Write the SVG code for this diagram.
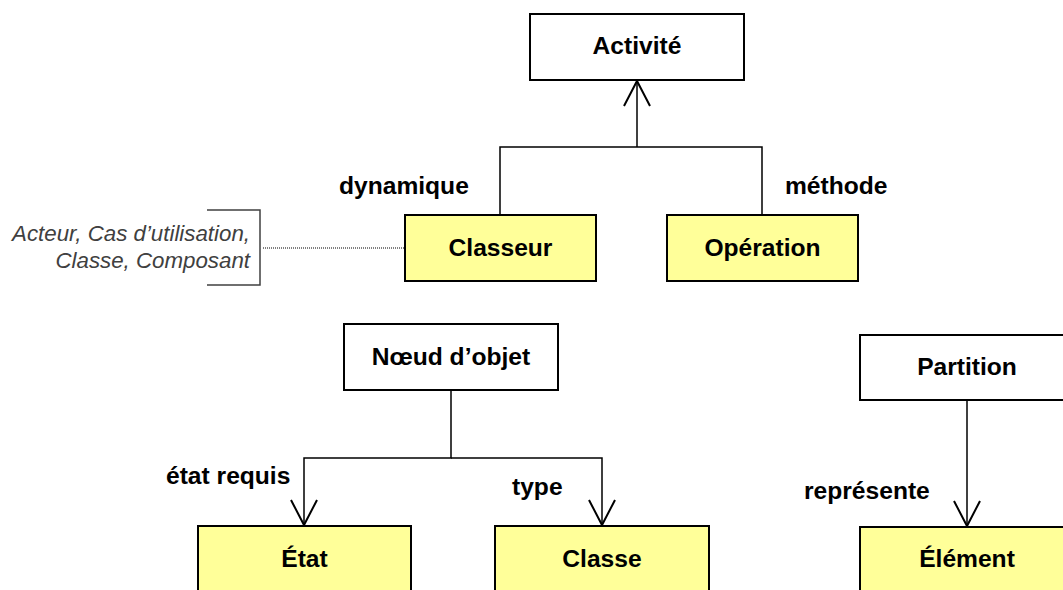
<svg xmlns="http://www.w3.org/2000/svg" width="1063" height="590" viewBox="0 0 1063 590">
<style>
.box{stroke:#000;stroke-width:2}
.w{fill:#fff}
.y{fill:#ffff99}
.t{font-family:"Liberation Sans",Arial,sans-serif;font-weight:bold;font-size:24.6px;fill:#000}
.c{text-anchor:middle}
.note{font-family:"Liberation Sans",Arial,sans-serif;font-style:italic;font-size:22.3px;fill:#404040;text-anchor:end}
.ln{fill:none;stroke:#000;stroke-width:1.5}
</style>
<defs>
<marker id="open" markerUnits="userSpaceOnUse" markerWidth="40" markerHeight="40" viewBox="-30 -20 40 40" refX="0" refY="0" orient="auto" overflow="visible">
<path d="M-25,-13 L0,0 L-25,13" fill="none" stroke="#000" stroke-width="2"/>
</marker>
</defs>
<rect width="1063" height="590" fill="#fff"/>
<g id="connectors">
<path class="ln" d="M637,147 V81" marker-end="url(#open)"/>
<path class="ln" d="M500,215 V147 H762 V215"/>
<path class="ln" d="M451,390 V458 H304 V525" marker-end="url(#open)"/>
<path class="ln" d="M451,458 H602 V525" marker-end="url(#open)"/>
<path class="ln" d="M967,400 V526" marker-end="url(#open)"/>
<path d="M263,248 H405" fill="none" stroke="#000" stroke-width="1" stroke-dasharray="1,1"/>
</g>
<g id="note">
<path d="M207,210 H260 V285 H207" fill="none" stroke="#404040" stroke-width="1.5"/>
<text class="note" x="250" y="241">Acteur, Cas d’utilisation,</text>
<text class="note" x="250" y="268">Classe, Composant</text>
</g>
<g id="activite"><rect class="box w" x="530" y="14" width="214" height="66"/><text class="t c" x="637" y="54">Activité</text></g>
<g id="classeur"><rect class="box y" x="405" y="215" width="191" height="66"/><text class="t c" x="500.5" y="256">Classeur</text></g>
<g id="operation"><rect class="box y" x="667" y="215" width="191" height="66"/><text class="t c" x="762.5" y="256">Opération</text></g>
<g id="noeud"><rect class="box w" x="344" y="324" width="214" height="66"/><text class="t c" x="451" y="365">Nœud d’objet</text></g>
<g id="partition"><rect class="box w" x="860" y="335" width="214" height="65"/><text class="t c" x="967" y="375">Partition</text></g>
<g id="etat"><rect class="box y" x="198" y="526" width="213" height="80"/><text class="t c" x="304.5" y="567">État</text></g>
<g id="classe"><rect class="box y" x="495" y="526" width="214" height="80"/><text class="t c" x="602" y="567">Classe</text></g>
<g id="element"><rect class="box y" x="860" y="527" width="214" height="80"/><text class="t c" x="967" y="567">Élément</text></g>
<g id="labels">
<text class="t" x="339" y="194">dynamique</text>
<text class="t" x="785" y="194">méthode</text>
<text class="t" x="166" y="484">état requis</text>
<text class="t" x="512" y="495">type</text>
<text class="t" x="804" y="499">représente</text>
</g>
</svg>
